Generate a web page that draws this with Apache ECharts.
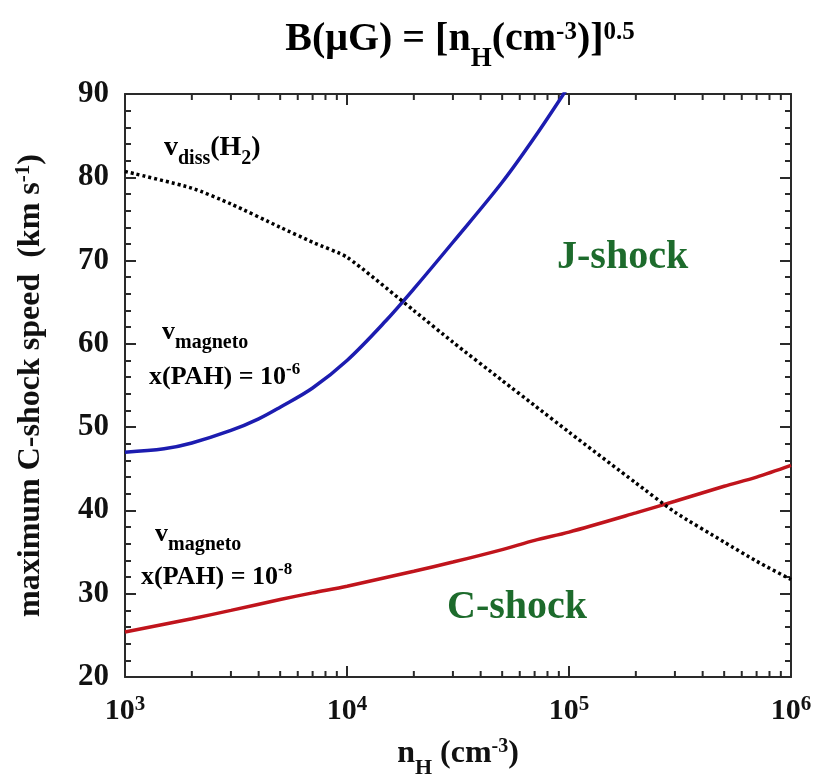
<!DOCTYPE html>
<html>
<head>
<meta charset="utf-8">
<script src="https://cdn.jsdelivr.net/npm/echarts@6/dist/echarts.min.js"></script>
<style>
  html, body { margin: 0; padding: 0; background: #fff; }
  #chart { width: 818px; height: 783px; }
</style>
</head>
<body>
<div id="chart"></div>
<script>
// density n_H (cm^-3) and speeds (km/s)
var nH = [1e3, 2e3, 3e3, 5e3, 7e3, 1e4, 2e4, 3e4, 5e4, 7e4, 1e5, 2e5, 3e5, 5e5, 7e5, 1e6];
var vDiss = [80.7, 78.7, 76.8, 74.0, 72.2, 70.4, 64.0, 60.2, 55.6, 52.6, 49.4, 43.3, 39.8, 36.2, 33.9, 31.7];
var vMagRed = [25.4, 27.0, 28.0, 29.3, 30.1, 30.9, 32.7, 33.8, 35.3, 36.4, 37.4, 39.7, 41.1, 42.9, 44.0, 45.4];
var nHBlue = [1e3, 1.5e3, 2e3, 3e3, 4e3, 5e3, 7e3, 1e4, 1.5e4, 2e4, 3e4, 5e4, 7e4, 1e5];
var vMagBlue = [47.0, 47.4, 48.1, 49.6, 51.0, 52.4, 54.7, 58.0, 62.8, 66.6, 72.2, 79.4, 84.8, 91.0];

var yMin = 20, yMax = 90;
var decades = [1e3, 1e4, 1e5];
var minorX = [];
decades.forEach(function (d) {
    for (var k = 2; k <= 9; k++) minorX.push(d * k);
});

function pairs(xs, ys) {
    return xs.map(function (x, i) { return [x, ys[i]]; });
}

var serif = 'Liberation Serif';
var axisColor = '#2a2a2a';
var blue = '#1c1cb0';
var red = '#c0141c';
var green = '#1d6b2c';

function labelRich(color, big) {
    var fs = big ? 28 : 26;
    return {
        a: { fontFamily: serif, fontWeight: 'bold', fontSize: fs, color: color, lineHeight: 32, verticalAlign: 'middle' },
        sub: { fontFamily: serif, fontWeight: 'bold', fontSize: 20, color: color, lineHeight: 20, verticalAlign: 'top', padding: [17, 0, 0, 0] },
        sup: { fontFamily: serif, fontWeight: 'bold', fontSize: 17, color: color, lineHeight: 18, verticalAlign: 'top' }
    };
}

var myChart = echarts.init(document.getElementById('chart'));

var option = {
    backgroundColor: '#fff',
    animation: false,
    grid: { left: 125, right: 27, top: 94, bottom: 106, containLabel: false, outerBoundsMode: 'none' },
    xAxis: [
        {
            type: 'log',
            logBase: 10,
            min: 1e3,
            max: 1e6,
            name: '{a|n}{sub|H}{a| (cm}{sup|-3}{a|)}',
            nameLocation: 'middle',
            nameGap: 60,
            nameTextStyle: {
                rich: {
                    a: { fontFamily: serif, fontWeight: 'bold', fontSize: 32, color: '#111', lineHeight: 34, verticalAlign: 'middle' },
                    sub: { fontFamily: serif, fontWeight: 'bold', fontSize: 22, color: '#111', lineHeight: 22, verticalAlign: 'top', padding: [20, 0, 0, 0] },
                    sup: { fontFamily: serif, fontWeight: 'bold', fontSize: 20, color: '#111', lineHeight: 20, verticalAlign: 'top' }
                }
            },
            axisLine: { lineStyle: { color: axisColor, width: 2 } },
            axisTick: { inside: true, length: 11, lineStyle: { color: axisColor, width: 2 } },
            splitLine: { show: false },
            axisLabel: {
                margin: 17,
                formatter: function (v) {
                    return '{b|10}{s|' + Math.round(Math.log10(v)) + '}';
                },
                rich: {
                    b: { fontFamily: serif, fontWeight: 'bold', fontSize: 30, color: '#111', lineHeight: 32, verticalAlign: 'bottom' },
                    s: { fontFamily: serif, fontWeight: 'bold', fontSize: 21, color: '#111', lineHeight: 20, verticalAlign: 'top' }
                }
            }
        },
        {
            type: 'log',
            logBase: 10,
            min: 1e3,
            max: 1e6,
            position: 'top',
            axisLine: { lineStyle: { color: axisColor, width: 2 } },
            axisTick: { inside: true, length: 11, lineStyle: { color: axisColor, width: 2 } },
            axisLabel: { show: false },
            splitLine: { show: false }
        }
    ],
    yAxis: [
        {
            type: 'value',
            min: yMin,
            max: yMax,
            interval: 10,
            name: '{t|maximum C-shock speed  (km s}{s|-1}{t|)}',
            nameLocation: 'middle',
            nameRotate: 90,
            nameGap: 78,
            nameTextStyle: {
                rich: {
                    t: { fontFamily: serif, fontWeight: 'bold', fontSize: 32, color: '#111', lineHeight: 34, verticalAlign: 'bottom' },
                    s: { fontFamily: serif, fontWeight: 'bold', fontSize: 21, color: '#111', lineHeight: 20, verticalAlign: 'top' }
                }
            },
            axisLine: { show: true, lineStyle: { color: axisColor, width: 2 } },
            axisTick: { show: true, inside: true, length: 11, lineStyle: { color: axisColor, width: 2 } },
            minorTick: { show: true, splitNumber: 5, length: 6, lineStyle: { color: axisColor, width: 2 } },
            splitLine: { show: false },
            axisLabel: { margin: 16, fontFamily: serif, fontWeight: 'bold', fontSize: 31, color: '#111' }
        },
        {
            type: 'value',
            min: yMin,
            max: yMax,
            interval: 10,
            position: 'right',
            axisLine: { show: true, lineStyle: { color: axisColor, width: 2 } },
            axisTick: { show: true, inside: true, length: 11, lineStyle: { color: axisColor, width: 2 } },
            minorTick: { show: true, splitNumber: 5, length: 6, lineStyle: { color: axisColor, width: 2 } },
            splitLine: { show: false },
            axisLabel: { show: false }
        }
    ],
    series: [
        {
            name: 'vdiss',
            type: 'line',
            data: pairs(nH, vDiss),
            showSymbol: false,
            smooth: 0.2,
            lineStyle: { color: '#000', width: 3.5, type: [3, 3] },
            z: 3
        },
        {
            name: 'vmag6',
            type: 'line',
            data: pairs(nHBlue, vMagBlue),
            showSymbol: false,
            smooth: 0.35,
            clip: true,
            lineStyle: { color: blue, width: 3.5 },
            z: 2
        },
        {
            name: 'vmag8',
            type: 'line',
            data: pairs(nH, vMagRed),
            showSymbol: false,
            smooth: 0.3,
            lineStyle: { color: red, width: 3.5 },
            z: 2
        },
        {
            // minor log ticks on bottom and top frame
            type: 'custom',
            data: minorX.map(function (v) { return [v]; }),
            silent: true,
            renderItem: function (params, api) {
                var b = api.coord([api.value(0), yMin]);
                var t = api.coord([api.value(0), yMax]);
                var st = { stroke: axisColor, lineWidth: 2 };
                return {
                    type: 'group',
                    children: [
                        { type: 'line', shape: { x1: b[0], y1: b[1], x2: b[0], y2: b[1] - 6 }, style: st },
                        { type: 'line', shape: { x1: t[0], y1: t[1], x2: t[0], y2: t[1] + 6 }, style: st }
                    ]
                };
            },
            encode: { x: 0 }
        }
    ],
    graphic: [
        {
            type: 'text', x: 460, y: 20,
            style: {
                text: '{a|B(μG) = [n}{sub|H}{a|(cm}{sup|-3}{a|)]}{sup|0.5}',
                align: 'center',
                rich: {
                    a: { fontFamily: serif, fontWeight: 'bold', fontSize: 40, color: '#111', lineHeight: 40, verticalAlign: 'middle' },
                    sub: { fontFamily: serif, fontWeight: 'bold', fontSize: 27, color: '#111', lineHeight: 24, verticalAlign: 'top', padding: [26, 0, 0, 0] },
                    sup: { fontFamily: serif, fontWeight: 'bold', fontSize: 25, color: '#111', lineHeight: 22, verticalAlign: 'top' }
                }
            }
        },
        {
            type: 'text', left: 164, top: 132,
            style: { text: '{a|v}{sub|diss}{a|(H}{sub|2}{a|)}', rich: labelRich('#111', true) }
        },
        {
            type: 'text', left: 162, top: 316,
            style: { text: '{a|v}{sub|magneto}', rich: labelRich(blue) }
        },
        {
            type: 'text', left: 149, top: 361,
            style: { text: '{a|x(PAH) = 10}{sup|-6}', rich: labelRich(blue) }
        },
        {
            type: 'text', left: 155, top: 518,
            style: { text: '{a|v}{sub|magneto}', rich: labelRich(red) }
        },
        {
            type: 'text', left: 141, top: 561,
            style: { text: '{a|x(PAH) = 10}{sup|-8}', rich: labelRich(red) }
        },
        {
            type: 'text', left: 557, top: 238,
            style: { text: 'J-shock', fontFamily: serif, fontWeight: 'bold', fontSize: 40, fill: green }
        },
        {
            type: 'text', left: 447, top: 588,
            style: { text: 'C-shock', fontFamily: serif, fontWeight: 'bold', fontSize: 40, fill: green }
        }
    ]
};

myChart.setOption(option);
</script>
</body>
</html>
